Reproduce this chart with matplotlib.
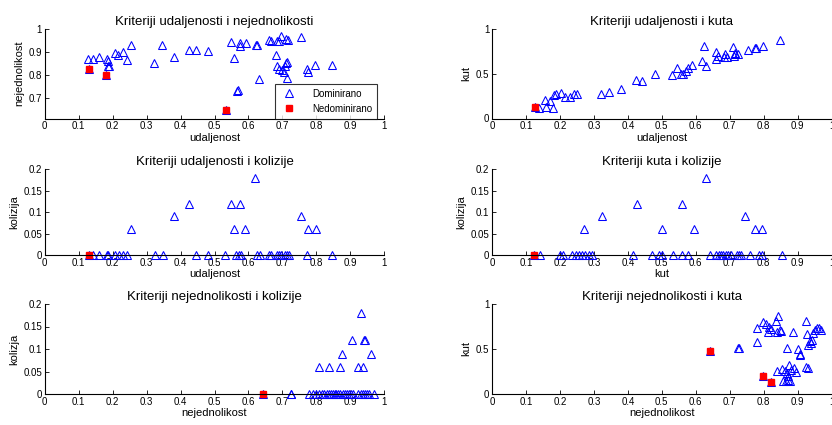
import matplotlib.pyplot as plt
from matplotlib.ticker import FuncFormatter
import numpy as np

plt.rcParams['font.family'] = ['Liberation Sans', 'DejaVu Sans']

# udaljenost / nejednolikost
ud_nej_x = [0.128, 0.141, 0.16, 0.183, 0.185, 0.187, 0.19, 0.207, 0.217, 0.23, 0.241, 0.253,
            0.323, 0.346, 0.381, 0.424, 0.446, 0.481, 0.549, 0.556, 0.575, 0.575, 0.593, 0.565,
            0.568, 0.622, 0.624, 0.632, 0.661, 0.665, 0.683, 0.695, 0.689, 0.71, 0.716, 0.681,
            0.683, 0.689, 0.708, 0.71, 0.714, 0.7, 0.705, 0.714, 0.755, 0.771, 0.775, 0.797, 0.847]
ud_nej_y = [0.87, 0.87, 0.876, 0.867, 0.858, 0.84, 0.84, 0.894, 0.886, 0.90, 0.863, 0.929,
            0.851, 0.93, 0.879, 0.907, 0.907, 0.901, 0.944, 0.873, 0.936, 0.927, 0.94, 0.73,
            0.733, 0.929, 0.929, 0.783, 0.951, 0.946, 0.947, 0.97, 0.947, 0.956, 0.953, 0.887,
            0.84, 0.823, 0.836, 0.85, 0.854, 0.82, 0.813, 0.786, 0.966, 0.826, 0.813, 0.843, 0.844]
ud_nej_nd_x = [0.13, 0.18, 0.535]
ud_nej_nd_y = [0.825, 0.80, 0.645]

# udaljenost / kut
ud_kut_x = [0.138, 0.16, 0.18, 0.157, 0.172, 0.182, 0.187, 0.204, 0.216, 0.229, 0.242, 0.25,
            0.322, 0.344, 0.38, 0.423, 0.443, 0.48, 0.53, 0.546, 0.556, 0.563, 0.57, 0.576, 0.59,
            0.617, 0.623, 0.631, 0.66, 0.661, 0.666, 0.682, 0.686, 0.693, 0.709, 0.713, 0.715,
            0.717, 0.723, 0.753, 0.773, 0.777, 0.799, 0.848]
ud_kut_y = [0.12, 0.13, 0.12, 0.21, 0.20, 0.26, 0.27, 0.285, 0.24, 0.24, 0.27, 0.27,
            0.27, 0.29, 0.325, 0.43, 0.415, 0.50, 0.48, 0.565, 0.50, 0.50, 0.525, 0.56, 0.60,
            0.64, 0.81, 0.58, 0.74, 0.66, 0.70, 0.69, 0.72, 0.69, 0.80, 0.70, 0.72,
            0.73, 0.72, 0.76, 0.78, 0.79, 0.81, 0.87]
ud_kut_nd_x = [0.128]
ud_kut_nd_y = [0.125]

# udaljenost / kolizija
ud_kol_x = [0.141, 0.161, 0.183, 0.187, 0.207, 0.219, 0.232, 0.243, 0.325, 0.347, 0.446, 0.48,
            0.532, 0.563, 0.571, 0.577, 0.624, 0.634, 0.661, 0.665, 0.683, 0.689, 0.695, 0.708,
            0.713, 0.719, 0.773, 0.847,
            0.253, 0.381, 0.424, 0.548, 0.575, 0.557, 0.591, 0.619, 0.754, 0.775, 0.799]
ud_kol_y = [0] * 28 + [0.06, 0.09, 0.12, 0.12, 0.12, 0.06, 0.06, 0.18, 0.09, 0.06, 0.06]
ud_kol_nd_x = [0.13]
ud_kol_nd_y = [0]

# kut / kolizija
kut_kol_x = [0.142, 0.199, 0.21, 0.236, 0.246, 0.256, 0.265, 0.275, 0.285, 0.295, 0.415, 0.472,
             0.492, 0.501, 0.533, 0.559, 0.576, 0.641, 0.661, 0.667, 0.673, 0.68, 0.688, 0.696,
             0.704, 0.72, 0.726, 0.732, 0.759, 0.787, 0.796, 0.853,
             0.272, 0.324, 0.428, 0.50, 0.559, 0.596, 0.631, 0.744, 0.775, 0.796]
kut_kol_y = [0] * 32 + [0.06, 0.09, 0.12, 0.06, 0.12, 0.06, 0.18, 0.09, 0.06, 0.06]
kut_kol_nd_x = [0.124]
kut_kol_nd_y = [0]

# nejednolikost / kolizija
nej_kol_x = [0.724, 0.726, 0.779, 0.791, 0.80, 0.809, 0.816, 0.822, 0.83, 0.836, 0.842, 0.848,
             0.854, 0.859, 0.865, 0.871, 0.877, 0.883, 0.889, 0.895, 0.901, 0.909, 0.924, 0.93,
             0.936, 0.942, 0.948, 0.954, 0.97,
             0.809, 0.838, 0.87, 0.875, 0.905, 0.924, 0.93, 0.938, 0.94, 0.944, 0.962]
nej_kol_y = [0] * 29 + [0.06, 0.06, 0.06, 0.09, 0.12, 0.06, 0.18, 0.06, 0.12, 0.12, 0.09]
nej_kol_nd_x = [0.642]
nej_kol_nd_y = [0]

# nejednolikost / kut
nej_kut_x = [0.723, 0.728, 0.779, 0.781, 0.798, 0.806, 0.814, 0.816, 0.822, 0.836, 0.842, 0.838,
             0.847, 0.851, 0.885, 0.869, 0.902, 0.906, 0.908, 0.924, 0.928, 0.93, 0.938, 0.942,
             0.946, 0.952, 0.956, 0.964, 0.97, 0.936,
             0.838, 0.853, 0.863, 0.869, 0.875, 0.881, 0.889, 0.895, 0.857, 0.867, 0.873, 0.877,
             0.871, 0.926, 0.93]
nej_kut_y = [0.507, 0.507, 0.58, 0.73, 0.80, 0.78, 0.69, 0.75, 0.72, 0.81, 0.87, 0.69,
             0.71, 0.70, 0.69, 0.51, 0.50, 0.45, 0.43, 0.81, 0.67, 0.54, 0.57, 0.60,
             0.68, 0.715, 0.73, 0.73, 0.71, 0.59,
             0.26, 0.28, 0.26, 0.23, 0.325, 0.27, 0.29, 0.25, 0.14, 0.14, 0.157, 0.14,
             0.195, 0.30, 0.29]
nej_kut_nd_x = [0.641, 0.798, 0.823]
nej_kut_nd_y = [0.478, 0.20, 0.134]

W, H = 832, 425
fig = plt.figure(figsize=(W / 100, H / 100), dpi=100)

lefts = [44.7, 492.0]
rows = [(28.7, 118.5), (169.3, 255.0), (304.0, 394.0)]
aw = 339.6


def make_ax(col, row):
    top, bot = rows[row]
    return fig.add_axes([lefts[col] / W, 1 - bot / H, aw / W, (bot - top) / H])


def draw(ax, x, y, ndx, ndy, title, xlabel, ylabel, ylim, yticks):
    dom, = ax.plot(np.r_[x, ndx], np.r_[y, ndy], '^', color='blue', mfc='none',
                   markersize=6, markeredgewidth=0.75, clip_on=False, label='Dominirano')
    nd, = ax.plot(ndx, ndy, 's', color='red', markersize=4.6, clip_on=False,
                  label='Nedominirano')
    ax.set_xlim(0, 1)
    ax.set_ylim(*ylim)
    ax.set_xticks(np.arange(0, 1.01, 0.1))
    ax.set_yticks(yticks)
    fmt = FuncFormatter(lambda v, p: '%g' % round(v, 2))
    ax.xaxis.set_major_formatter(fmt)
    ax.yaxis.set_major_formatter(fmt)
    ax.spines['top'].set_visible(False)
    ax.spines['right'].set_visible(False)
    for s in ('left', 'bottom'):
        ax.spines[s].set_linewidth(0.8)
    ax.tick_params(direction='in', length=3, width=0.6, labelsize=7, pad=2)
    ax.set_title(title, fontsize=9.5, pad=3)
    ax.set_xlabel(xlabel, fontsize=8, labelpad=1)
    ax.set_ylabel(ylabel, fontsize=8, labelpad=3)
    return dom, nd


ax = make_ax(0, 0)
dom, nd = draw(ax, ud_nej_x, ud_nej_y, ud_nej_nd_x, ud_nej_nd_y,
               'Kriteriji udaljenosti i nejednolikosti', 'udaljenost', 'nejednolikost',
               (0.61, 1.0), [0.7, 0.8, 0.9, 1.0])
leg = ax.legend(handles=[dom, nd], loc='lower right', bbox_to_anchor=(0.978, 0.0),
                fontsize=7, frameon=True, fancybox=False, edgecolor='black',
                borderaxespad=0, handletextpad=1.3, borderpad=0.5, labelspacing=0.5)
leg.get_frame().set_linewidth(0.8)

ax = make_ax(1, 0)
draw(ax, ud_kut_x, ud_kut_y, ud_kut_nd_x, ud_kut_nd_y,
     'Kriteriji udaljenosti i kuta', 'udaljenost', 'kut', (0, 1), [0, 0.5, 1])

ax = make_ax(0, 1)
draw(ax, ud_kol_x, ud_kol_y, ud_kol_nd_x, ud_kol_nd_y,
     'Kriteriji udaljenosti i kolizije', 'udaljenost', 'kolizija', (0, 0.2),
     [0, 0.05, 0.1, 0.15, 0.2])

ax = make_ax(1, 1)
draw(ax, kut_kol_x, kut_kol_y, kut_kol_nd_x, kut_kol_nd_y,
     'Kriteriji kuta i kolizije', 'kut', 'kolizija', (0, 0.2),
     [0, 0.05, 0.1, 0.15, 0.2])

ax = make_ax(0, 2)
draw(ax, nej_kol_x, nej_kol_y, nej_kol_nd_x, nej_kol_nd_y,
     'Kriteriji nejednolikosti i kolizije', 'nejednolikost', 'kolizja', (0, 0.2),
     [0, 0.05, 0.1, 0.15, 0.2])

ax = make_ax(1, 2)
draw(ax, nej_kut_x, nej_kut_y, nej_kut_nd_x, nej_kut_nd_y,
     'Kriteriji nejednolikosti i kuta', 'nejednolikost', 'kut', (0, 1), [0, 0.5, 1])

fig.savefig('out.png', dpi=100)
